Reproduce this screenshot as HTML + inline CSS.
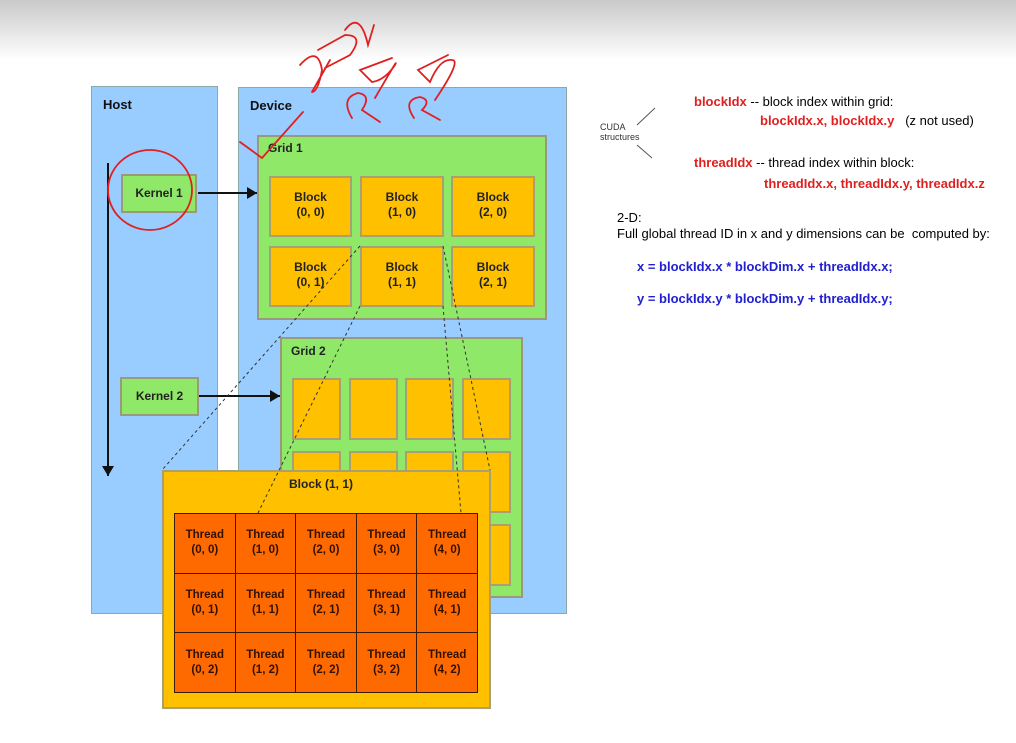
<!DOCTYPE html>
<html><head><style>
body{margin:0;width:1016px;height:743px;overflow:hidden;background:#fff;font-family:"Liberation Sans",Arial,sans-serif;position:relative}
.a{position:absolute;box-sizing:border-box}
.top{left:0;top:0;width:1016px;height:60px;background:linear-gradient(#c9c9c9,#fff)}
.blue{background:#99ccff;border:1px solid #8aa}
.green{background:#8fe868;border:2px solid #9a9a7a}
.org{background:#ffc000;border:2px solid #a8a070}
.b{font-weight:bold;font-size:12px;color:#222;text-align:center;line-height:15px;padding-top:12px}
.t{position:absolute;font-size:13px;white-space:nowrap}
.red{color:#e02020;font-weight:bold}
.bl{color:#2020d0;font-weight:bold}
table{border-collapse:collapse;table-layout:fixed;width:304px;height:180px}
td{background:#ff6a00;border:1.5px solid #3a1a00;text-align:center;font-weight:bold;font-size:11.5px;line-height:15px;color:#331100;padding:0}
</style></head><body>
<div class="a top"></div>
<div class="a blue" style="left:91px;top:86px;width:127px;height:528px"></div>
<div class="a blue" style="left:238px;top:87px;width:329px;height:527px"></div>
<div class="t" style="left:103px;top:97px;font-weight:bold;font-size:13px;color:#111">Host</div>
<div class="t" style="left:250px;top:98px;font-weight:bold;font-size:13px;color:#111">Device</div>
<div class="a green" style="left:257px;top:135px;width:290px;height:185px"></div>
<div class="t" style="left:268px;top:141px;font-weight:bold;font-size:12px;color:#222">Grid 1</div>
<div class="a org b" style="left:269px;top:176px;width:83px;height:61px">Block<br>(0, 0)</div>
<div class="a org b" style="left:360px;top:176px;width:84px;height:61px">Block<br>(1, 0)</div>
<div class="a org b" style="left:451px;top:176px;width:84px;height:61px">Block<br>(2, 0)</div>
<div class="a org b" style="left:269px;top:246px;width:83px;height:61px">Block<br>(0, 1)</div>
<div class="a org b" style="left:360px;top:246px;width:84px;height:61px">Block<br>(1, 1)</div>
<div class="a org b" style="left:451px;top:246px;width:84px;height:61px">Block<br>(2, 1)</div>
<div class="a green b" style="left:121px;top:174px;width:76px;height:39px;padding-top:10px">Kernel 1</div>
<div class="a green b" style="left:120px;top:377px;width:79px;height:39px;padding-top:10px">Kernel 2</div>
<div class="a green" style="left:280px;top:337px;width:243px;height:261px"></div>
<div class="t" style="left:291px;top:344px;font-weight:bold;font-size:12px;color:#222">Grid 2</div>
<div class="a org" style="left:292px;top:378px;width:49px;height:62px"></div>
<div class="a org" style="left:349px;top:378px;width:49px;height:62px"></div>
<div class="a org" style="left:405px;top:378px;width:49px;height:62px"></div>
<div class="a org" style="left:462px;top:378px;width:49px;height:62px"></div>
<div class="a org" style="left:292px;top:451px;width:49px;height:62px"></div>
<div class="a org" style="left:349px;top:451px;width:49px;height:62px"></div>
<div class="a org" style="left:405px;top:451px;width:49px;height:62px"></div>
<div class="a org" style="left:462px;top:451px;width:49px;height:62px"></div>
<div class="a org" style="left:462px;top:524px;width:49px;height:62px"></div>
<div class="a org" style="left:162px;top:470px;width:329px;height:239px"></div>
<div class="t" style="left:289px;top:477px;font-weight:bold;font-size:12px;color:#222">Block (1, 1)</div>
<table class="a" style="left:174px;top:513px">
<tr><td>Thread<br>(0, 0)</td><td>Thread<br>(1, 0)</td><td>Thread<br>(2, 0)</td><td>Thread<br>(3, 0)</td><td>Thread<br>(4, 0)</td></tr>
<tr><td>Thread<br>(0, 1)</td><td>Thread<br>(1, 1)</td><td>Thread<br>(2, 1)</td><td>Thread<br>(3, 1)</td><td>Thread<br>(4, 1)</td></tr>
<tr><td>Thread<br>(0, 2)</td><td>Thread<br>(1, 2)</td><td>Thread<br>(2, 2)</td><td>Thread<br>(3, 2)</td><td>Thread<br>(4, 2)</td></tr>
</table>
<svg class="a" style="left:0;top:0" width="1016" height="743">
<defs><marker id="m" markerUnits="userSpaceOnUse" markerWidth="10" markerHeight="12" refX="10" refY="6" orient="auto"><path d="M0,0L10,6L0,12z" fill="#111"/></marker></defs>
<line x1="108" y1="163" x2="108" y2="476" stroke="#111" stroke-width="2" marker-end="url(#m)"/>
<line x1="198" y1="193" x2="257" y2="193" stroke="#111" stroke-width="2" marker-end="url(#m)"/>
<line x1="199" y1="396" x2="280" y2="396" stroke="#111" stroke-width="2" marker-end="url(#m)"/>
<g stroke="#333" stroke-width="1" stroke-dasharray="3,3" fill="none">
<line x1="360" y1="246" x2="162" y2="470"/>
<line x1="360" y1="306" x2="258" y2="513"/>
<line x1="443" y1="246" x2="490" y2="470"/>
<line x1="443" y1="306" x2="461" y2="513"/>
</g>
<g stroke="#e02020" stroke-width="1.8" fill="none" stroke-linecap="round">
<ellipse cx="150" cy="190" rx="42" ry="40"/>
<path d="M240,142 L262,158 L303,112"/>
<path d="M300,65 Q318,45 322,70 Q318,92 312,92 M312,92 L330,60"/>
<path d="M318,50 L345,35 Q365,35 350,55 L325,68"/>
<path d="M345,30 Q360,10 368,45 L374,25"/>
<path d="M352,118 Q340,98 358,93 Q372,95 362,110 L380,122"/>
<path d="M375,98 Q400,55 395,65 Q385,80 372,82 L360,70 L392,58"/>
<path d="M414,118 Q402,100 420,97 Q432,100 422,110 L440,120"/>
<path d="M435,100 Q462,60 452,60 Q440,58 430,82 L418,70 L448,55"/>
</g>
<g stroke="#555" stroke-width="1"><line x1="637" y1="125" x2="655" y2="108"/><line x1="637" y1="145" x2="652" y2="158"/></g>
</svg>
<div class="t" style="left:600px;top:122px;font-size:9px;line-height:10px;color:#333">CUDA<br>structures</div>
<div class="t" style="left:694px;top:94px"><span class="red">blockIdx</span> -- block index within grid:</div>
<div class="t" style="left:760px;top:113px"><span class="red">blockIdx.x, blockIdx.y</span> &nbsp;&nbsp;(z not used)</div>
<div class="t" style="left:694px;top:155px"><span class="red">threadIdx</span> -- thread index within block:</div>
<div class="t" style="left:764px;top:176px"><span class="red">threadIdx.x, threadIdx.y, threadIdx.z</span></div>
<div class="t" style="left:617px;top:210px">2-D:</div>
<div class="t" style="left:617px;top:226px">Full global thread ID in x and y dimensions can be &nbsp;computed by:</div>
<div class="t bl" style="left:637px;top:259px">x = blockIdx.x * blockDim.x + threadIdx.x;</div>
<div class="t bl" style="left:637px;top:291px">y = blockIdx.y * blockDim.y + threadIdx.y;</div>
</body></html>
